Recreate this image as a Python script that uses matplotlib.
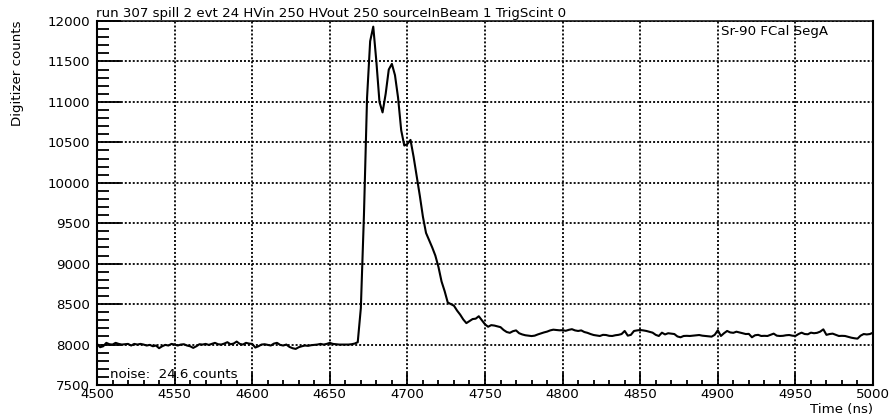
import numpy as np
import matplotlib
matplotlib.use("Agg")
import matplotlib.pyplot as plt
from matplotlib.ticker import MultipleLocator

# digitizer waveform, one sample every 2 ns
t_start = 4500
t_step = 2
counts = [
    # 4500 - 4668 : pedestal
    8008, 7967, 7979, 8021, 8004, 8000, 8021, 8008, 8000, 8004,
    8008, 7988, 8008, 8000, 8008, 8000, 7988, 7996, 7979, 7988,
    7955, 7979, 7996, 7988, 8008, 8000, 7988, 8000, 8004, 7988,
    7979, 7959, 7979, 8004, 8000, 8008, 7996, 8008, 8021, 8004,
    8000, 8012, 8029, 8004, 8012, 8037, 8008, 8000, 8021, 8012,
    8008, 7963, 7979, 8000, 8004, 7996, 7988, 8012, 8021, 7996,
    7988, 8000, 7971, 7955, 7946, 7967, 7979, 7988, 7984, 7992,
    7996, 8000, 8008, 8000, 8008, 8021, 8008, 8004, 8000, 8000,
    8000, 8000, 8004, 8012, 8029,
    # 4670 - 4748 : pulse
    8450, 9600, 11050, 11750, 11930, 11500, 11000, 10870, 11100, 11400,
    11470, 11330, 11050, 10650, 10460, 10480, 10530, 10320, 10080, 9840,
    9580, 9380, 9290, 9200, 9100, 8960, 8780, 8660, 8520, 8500,
    8480, 8420, 8370, 8310, 8265, 8290, 8315, 8320, 8350, 8300,
    # 4750 - 5000 : tail
    8250, 8220, 8240, 8235, 8225, 8215, 8180, 8155, 8145, 8165,
    8175, 8140, 8125, 8115, 8110, 8105, 8110, 8125, 8138, 8150,
    8160, 8175, 8184, 8180, 8176, 8178, 8170, 8182, 8190, 8175,
    8168, 8175, 8155, 8145, 8130, 8118, 8112, 8106, 8120, 8118,
    8108, 8106, 8115, 8120, 8130, 8168, 8110, 8120, 8168, 8175,
    8180, 8175, 8168, 8158, 8147, 8120, 8106, 8147, 8125, 8140,
    8135, 8130, 8100, 8090, 8106, 8108, 8106, 8110, 8115, 8118,
    8110, 8106, 8102, 8098, 8120, 8176, 8106, 8140, 8168, 8150,
    8145, 8159, 8150, 8140, 8130, 8132, 8090, 8115, 8120, 8106,
    8108, 8106, 8120, 8135, 8110, 8106, 8108, 8115, 8118, 8110,
    8106, 8130, 8147, 8130, 8127, 8147, 8140, 8145, 8160, 8188,
    8120, 8130, 8135, 8120, 8106, 8108, 8106, 8095, 8085, 8078,
    8073, 8110, 8130, 8125, 8130, 8147,
]
times = t_start + t_step * np.arange(len(counts))

run_info = "run 307 spill 2 evt 24 HVin 250 HVout 250 sourceInBeam 1 TrigScint 0"
channel = "Sr-90 FCal SegA"
noise_rms = 24.6

fs = 9.6
plt.rcParams["font.family"] = ["DejaVu Sans"]

W, H = 894, 419
fig = plt.figure(figsize=(W / 100, H / 100), dpi=100)
ax = fig.add_axes([97 / W, 34 / H, 776 / W, 364 / H])

ax.plot(times, counts, color="black", lw=1.5, zorder=3)

ax.set_xlim(4500, 5000)
ax.set_ylim(7500, 12000)
ax.xaxis.set_major_locator(MultipleLocator(50))
ax.xaxis.set_minor_locator(MultipleLocator(10))
ax.yaxis.set_major_locator(MultipleLocator(500))
ax.yaxis.set_minor_locator(MultipleLocator(100))

ax.grid(True, which="major", color="black", lw=1.3,
        linestyle=(0, (1.1, 1.1)), zorder=1)

ax.tick_params(axis="x", which="major", direction="in", length=8.6,
               width=1.3, labelsize=fs, pad=2)
ax.tick_params(axis="x", which="minor", direction="in", length=3.6, width=1.3)
ax.tick_params(axis="y", which="major", direction="in", length=17,
               width=1.3, labelsize=fs, pad=5)
ax.tick_params(axis="y", which="minor", direction="in", length=8.6, width=1.3)

for side in ["left", "bottom", "right"]:
    ax.spines[side].set_linewidth(1.5)
ax.spines["top"].set_linewidth(1.1)

fig.text(96 / W, 1 - 17.5 / H, run_info, fontsize=fs,
         ha="left", va="baseline")
fig.text(18 / W, 1 - 21 / H, "Digitizer counts", fontsize=fs,
         rotation=90, ha="center", va="top")
fig.text(873 / W, 1 - 409 / H, "Time (ns)", fontsize=fs,
         ha="right", va="center")
fig.text(721 / W, 1 - 32 / H, channel, fontsize=fs,
         ha="left", va="center")
fig.text(110 / W, 1 - 374 / H, f"noise:  {noise_rms} counts", fontsize=fs,
         ha="left", va="center")

fig.savefig("out.png", dpi=100)
